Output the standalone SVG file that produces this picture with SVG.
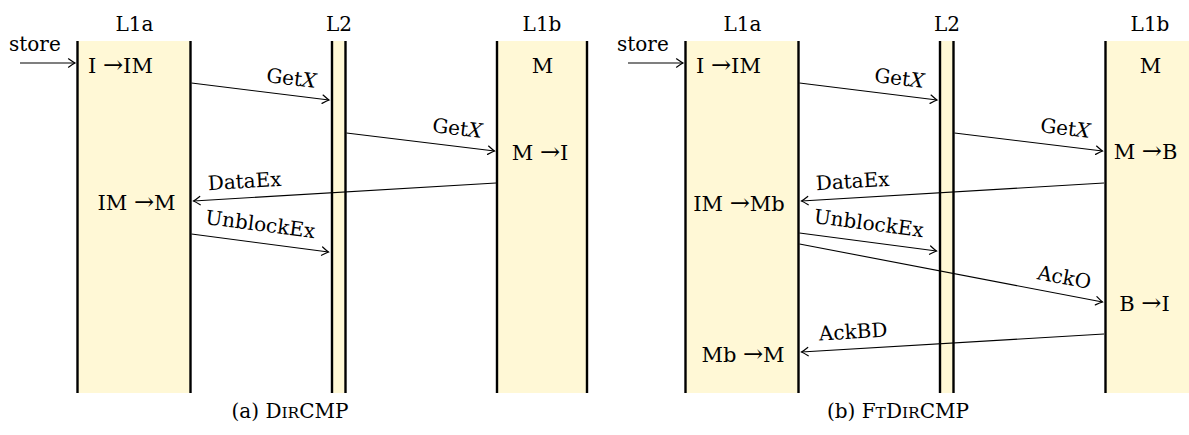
<svg xmlns="http://www.w3.org/2000/svg" width="1189" height="435" viewBox="0 0 1189 435">
  <style>
    text { font-family: "DejaVu Serif", "Liberation Serif", serif; font-size: 20px; fill: #000; }
    .mid { text-anchor: middle; }
    .st { font-size: 21px; }
    .ar { font-size: 24px; }
    .lane { fill: #fff8d6; stroke: none; }
    .edge { stroke: #000; stroke-width: 2.4; }
    .msg { stroke: #000; stroke-width: 1.1; fill: none; marker-end: url(#tip); }
    .sc { font-size: 15.5px; }
    .it { font-style: italic; }
  </style>
  <defs>
    <marker id="tip" markerUnits="userSpaceOnUse" markerWidth="14" markerHeight="14" refX="0" refY="0" viewBox="-8 -7 10 14" orient="auto">
      <path d="M -6.5 -4.2 Q -2 -1 0 0 Q -2 1 -6.5 4.2" fill="none" stroke="#000" stroke-width="1.2" stroke-linecap="round"/>
    </marker>
  </defs>

  <!-- (a) DirCMP -->
  <g id="a-L1a">
    <rect class="lane" x="77.5" y="41" width="113" height="352"/>
    <line class="edge" x1="77.5" y1="41" x2="77.5" y2="393"/>
    <line class="edge" x1="190.5" y1="41" x2="190.5" y2="393"/>
    <text class="mid" x="134.5" y="31">L1a</text>
    <text class="st" x="88" y="73">I <tspan class="ar">→</tspan>IM</text>
    <text class="st mid" x="136.5" y="210">IM <tspan class="ar">→</tspan>M</text>
  </g>
  <g id="a-L2">
    <rect class="lane" x="332" y="41" width="13.5" height="352"/>
    <line class="edge" x1="332" y1="41" x2="332" y2="393"/>
    <line class="edge" x1="345.5" y1="41" x2="345.5" y2="393"/>
    <text class="mid" x="339" y="31">L2</text>
  </g>
  <g id="a-L1b">
    <rect class="lane" x="497" y="41" width="90" height="352"/>
    <line class="edge" x1="497" y1="41" x2="497" y2="393"/>
    <line class="edge" x1="587" y1="41" x2="587" y2="393"/>
    <text class="mid" x="542" y="31">L1b</text>
    <text class="mid st" x="542.5" y="73">M</text>
    <text class="st mid" x="540" y="160">M <tspan class="ar">→</tspan>I</text>
  </g>
  <g id="a-connectors">
    <text x="9" y="51">store</text>
    <line class="msg" x1="20" y1="63" x2="75" y2="63"/>
    <line class="msg" x1="191.5" y1="83" x2="329" y2="100"/>
    <text class="mid" transform="translate(290.5 85) rotate(7)">Get<tspan class="it">X</tspan></text>
    <line class="msg" x1="346.5" y1="133" x2="494.5" y2="151"/>
    <text class="mid" transform="translate(456.5 135) rotate(6.9)">Get<tspan class="it">X</tspan></text>
    <line class="msg" x1="496" y1="183" x2="193.5" y2="201"/>
    <text class="mid" transform="translate(245 188) rotate(-3.4)">DataEx</text>
    <line class="msg" x1="191.5" y1="234" x2="328.5" y2="252"/>
    <text class="mid" transform="translate(259.5 231) rotate(7.4)">UnblockEx</text>
  </g>
  <text class="mid" x="290" y="418">(a) D<tspan class="sc">IR</tspan>CMP</text>

  <!-- (b) FtDirCMP -->
  <g id="b-L1a">
    <rect class="lane" x="685.5" y="41" width="113" height="352"/>
    <line class="edge" x1="685.5" y1="41" x2="685.5" y2="393"/>
    <line class="edge" x1="798.5" y1="41" x2="798.5" y2="393"/>
    <text class="mid" x="742.5" y="31">L1a</text>
    <text class="st" x="696" y="73">I <tspan class="ar">→</tspan>IM</text>
    <text class="st mid" x="739" y="211">IM <tspan class="ar">→</tspan>Mb</text>
    <text class="st mid" x="743" y="362">Mb <tspan class="ar">→</tspan>M</text>
  </g>
  <g id="b-L2">
    <rect class="lane" x="940" y="41" width="13.5" height="352"/>
    <line class="edge" x1="940" y1="41" x2="940" y2="393"/>
    <line class="edge" x1="953.5" y1="41" x2="953.5" y2="393"/>
    <text class="mid" x="947" y="31">L2</text>
  </g>
  <g id="b-L1b">
    <rect class="lane" x="1105.5" y="41" width="90" height="352"/>
    <line class="edge" x1="1105.5" y1="41" x2="1105.5" y2="393"/>
    <line class="edge" x1="1195.5" y1="41" x2="1195.5" y2="393"/>
    <text class="mid" x="1150" y="31">L1b</text>
    <text class="mid st" x="1150.5" y="73">M</text>
    <text class="st mid" x="1145.5" y="159">M <tspan class="ar">→</tspan>B</text>
    <text class="st mid" x="1144.5" y="311">B <tspan class="ar">→</tspan>I</text>
  </g>
  <g id="b-connectors">
    <text x="617" y="51">store</text>
    <line class="msg" x1="628" y1="63" x2="683" y2="63"/>
    <line class="msg" x1="799.5" y1="83" x2="937" y2="100"/>
    <text class="mid" transform="translate(898.5 85) rotate(7)">Get<tspan class="it">X</tspan></text>
    <line class="msg" x1="954.5" y1="133" x2="1102.5" y2="151"/>
    <text class="mid" transform="translate(1064.5 135) rotate(6.9)">Get<tspan class="it">X</tspan></text>
    <line class="msg" x1="1104" y1="183" x2="801.5" y2="201"/>
    <text class="mid" transform="translate(853 188) rotate(-3.4)">DataEx</text>
    <line class="msg" x1="799.5" y1="233" x2="936.5" y2="251"/>
    <text class="mid" transform="translate(868 230) rotate(7.4)">UnblockEx</text>
    <line class="msg" x1="799.5" y1="244" x2="1102.5" y2="302"/>
    <text class="mid" transform="translate(1063 284) rotate(10.8)">AckO</text>
    <line class="msg" x1="1104" y1="334" x2="801.5" y2="352"/>
    <text class="mid" transform="translate(853.5 338.5) rotate(-3.4)">AckBD</text>
  </g>
  <text class="mid" x="898" y="418">(b) F<tspan class="sc">T</tspan>D<tspan class="sc">IR</tspan>CMP</text>
</svg>
